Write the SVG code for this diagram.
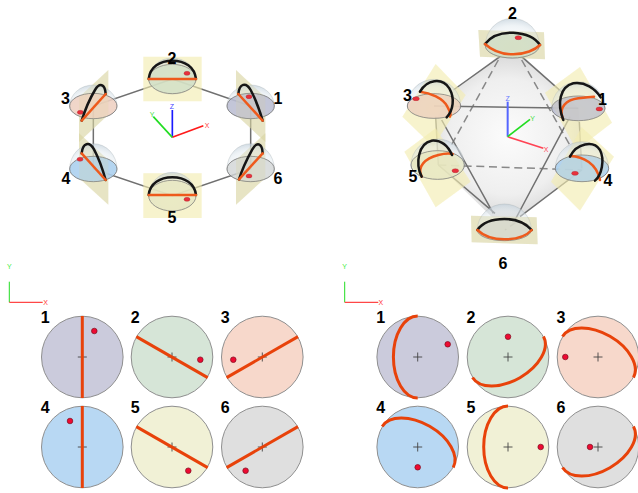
<svg xmlns="http://www.w3.org/2000/svg" width="638" height="493" viewBox="0 0 638 493" font-family="'Liberation Sans',Arial,sans-serif">
<style>
.lbl{font-family:'Liberation Sans',Arial,sans-serif;font-weight:700;font-size:16px;fill:#000;text-anchor:middle}
.ax{font-family:'Liberation Sans',Arial,sans-serif;font-size:7px;text-anchor:middle}
.plane{fill:#f9f2b0;fill-opacity:.55;stroke:none}
.plane2{fill:#d6d29c;fill-opacity:.55;stroke:none}
.over{fill:#e2ddb0;fill-opacity:.18;stroke:none}
.dome{fill:url(#domeG);stroke:#9aa3a8;stroke-width:1.5;stroke-opacity:.6}
.base{stroke:#777;stroke-width:2.500}
.blk{fill:none;stroke:#161616;stroke-width:7.500;stroke-linecap:round}
.or3{fill:none;stroke:#ee5a1c;stroke-width:7.500;stroke-linecap:round}
.dot3{fill:#e8303c;stroke:#a02028;stroke-width:1}
.edge{fill:none;stroke:#707070;stroke-width:4.500}
.dash{fill:none;stroke:#888;stroke-width:4.500;stroke-dasharray:24 14}
.disc{stroke:#8f8f8f;stroke-width:1}
.gc{fill:none;stroke:#e8420a;stroke-width:3}
.dot{fill:#ee0a32;stroke:#7a1020;stroke-width:.7}
.plus{fill:none;stroke:#444;stroke-width:.9}
.c1{fill:#cbcbdc}.c2{fill:#d6e5d7}.c3{fill:#f7d8cb}.c4{fill:#b8d8f3}.c5{fill:#f1f1d6}.c6{fill:#dfdfdf}
.b1{fill:#b6b9cf;fill-opacity:.8}.b2{fill:#c8dcc8;fill-opacity:.72}.b3{fill:#efcdbd;fill-opacity:.8}.b4{fill:#a6cdee;fill-opacity:.82}.b5{fill:#e6e8c0;fill-opacity:.72}.b6{fill:#cfd2d2;fill-opacity:.7}
</style>
<defs>
<radialGradient id="domeG" cx=".5" cy=".75" r=".8"><stop offset="0" stop-color="#ffffff" stop-opacity=".15"/><stop offset=".7" stop-color="#dfe8ee" stop-opacity=".5"/><stop offset="1" stop-color="#b9c8d4" stop-opacity=".8"/></radialGradient>
<radialGradient id="hullG" gradientUnits="userSpaceOnUse" cx="413" cy="410" r="290"><stop offset="0" stop-color="#fbfbfb"/><stop offset=".6" stop-color="#ececec"/><stop offset="1" stop-color="#c4c4c4"/></radialGradient>
<path id="plus" d="M-4.500 0H4.500M0-4.500V4.500" class="plus"/>
</defs>

<g id="connectors-left" transform="translate(40 30) scale(.33333)">
<path class="edge" d="M397 147L632 228V417L397 497L160 417V228Z"/>
</g>
<g id="axes-left" transform="translate(40 30) scale(.33333)">
<path d="M397 322V240" stroke="#1a1aff" stroke-width="5" fill="none"/>
<path d="M397 322L490 287" stroke="#ff1a1a" stroke-width="5" fill="none"/>
<path d="M397 322L340 260" stroke="#22dd22" stroke-width="5" fill="none"/>
</g>
<text class="ax" x="172" y="109" fill="#4444ff">Z</text>
<text class="ax" x="207" y="127.500" fill="#ff4444">X</text>
<text class="ax" x="152" y="117" fill="#44dd44">Y</text>

<g id="tl1"><g transform="translate(40 30) scale(.33333)">
<path class="plane2" d="M588 120L676 202V336L588 254Z"/>
<path class="dome" d="M561 228A71 63 0 0 1 703 228A71 38 0 0 1 561 228Z"/>
<ellipse class="base b1" cx="632" cy="228" rx="71" ry="38"/>
<path class="over" d="M588 120L676 202V336L588 254Z"/>
<ellipse class="dot3" cx="627" cy="200" rx="9" ry="6"/>
<path class="blk" d="M595 192C598 160 618 155 632 180C648 210 660 245 668 272"/>
<path class="or3" d="M595 192L668 272"/></g>
<text class="lbl" x="278" y="104">1</text></g>

<g id="tl2"><g transform="translate(40 30) scale(.33333)">
<path class="plane" d="M310 80H485V214H310Z"/>
<path class="dome" d="M326 147A71 63 0 0 1 468 147A71 45 0 0 1 326 147Z"/>
<ellipse class="base b2" cx="397" cy="147" rx="71" ry="44"/>
<path class="over" d="M310 80H485V214H310Z"/>
<ellipse class="dot3" cx="441" cy="130" rx="9" ry="6"/>
<path class="blk" d="M326 147C330 110 360 92 397 92C434 92 464 110 468 147"/>
<path class="or3" d="M326 147H468"/></g>
<text class="lbl" x="172" y="64">2</text></g>

<g id="tl3"><g transform="translate(40 30) scale(.33333)">
<path class="plane2" d="M205 120L117 202V336L205 254Z"/>
<path class="dome" d="M89 228A71 63 0 0 1 231 228A71 38 0 0 1 89 228Z"/>
<ellipse class="base b3" cx="160" cy="228" rx="71" ry="38"/>
<path class="over" d="M205 120L117 202V336L205 254Z"/>
<ellipse class="dot3" cx="121" cy="247" rx="9" ry="6"/>
<path class="blk" d="M125 272C135 240 150 205 165 180C178 158 195 160 197 192"/>
<path class="or3" d="M125 272L197 192"/></g>
<text class="lbl" x="65.500" y="104">3</text></g>

<g id="tl4"><g transform="translate(40 30) scale(.33333)">
<path class="plane2" d="M117 310L205 390V524L117 444Z"/>
<path class="dome" d="M89 417A71 76 0 0 1 231 417A71 38 0 0 1 89 417Z"/>
<ellipse class="base b4" cx="160" cy="417" rx="71" ry="38"/>
<path class="over" d="M117 310L205 390V524L117 444Z"/>
<ellipse class="dot3" cx="120" cy="388" rx="9" ry="6"/>
<path class="blk" d="M125 370C128 338 148 333 162 358C178 388 190 425 197 450"/>
<path class="or3" d="M125 370L197 450"/></g>
<text class="lbl" x="66" y="184">4</text></g>

<g id="tl5"><g transform="translate(40 30) scale(.33333)">
<path class="plane" d="M310 430H485V564H310Z"/>
<path class="dome" d="M326 497A71 70 0 0 1 468 497A71 45 0 0 1 326 497Z"/>
<ellipse class="base b5" cx="397" cy="497" rx="71" ry="46"/>
<path class="over" d="M310 430H485V564H310Z"/>
<ellipse class="dot3" cx="441" cy="508" rx="9" ry="6"/>
<path class="blk" d="M326 495C330 460 360 442 397 442C434 442 464 460 468 495"/>
<path class="or3" d="M326 495H468"/></g>
<text class="lbl" x="172" y="223">5</text></g>

<g id="tl6"><g transform="translate(40 30) scale(.33333)">
<path class="plane2" d="M588 390L676 310V444L588 524Z"/>
<path class="dome" d="M561 417A71 76 0 0 1 703 417A71 38 0 0 1 561 417Z"/>
<ellipse class="base b6" cx="632" cy="417" rx="71" ry="38"/>
<path class="over" d="M588 390L676 310V444L588 524Z"/>
<ellipse class="dot3" cx="627" cy="438" rx="9" ry="6"/>
<path class="blk" d="M597 448C607 416 622 385 637 358C650 335 667 338 668 370"/>
<path class="or3" d="M597 448L668 370"/></g>
<text class="lbl" x="278" y="184">6</text></g>

<g id="connectors-right" transform="translate(370 0) scale(.33333)">
<path d="M390 165L250 270L200 355L205 495L365 650L440 655L640 510L625 325L575 275L455 165Z" fill="url(#hullG)" fill-opacity=".85"/>
<path class="dash" d="M385 180L225 470M455 180L605 445M205 495L635 510M440 665L405 690"/>
<path class="edge" d="M390 170L250 270M455 170L580 280M192 318L625 325M197 350L205 495M628 365L635 505M205 495L375 640M215 360L370 640M600 350L435 660M635 510L450 650"/>
</g>
<g id="axes-right" transform="translate(370 0) scale(.33333)">
<path d="M413 410V305" stroke="#5566ff" stroke-width="6" fill="none"/>
<path d="M413 410L520 445" stroke="#ff4455" stroke-width="5" fill="none"/>
<path d="M413 410L480 358" stroke="#22dd22" stroke-width="5" fill="none"/>
</g>
<text class="ax" x="507.700" y="101" fill="#6677ff">Z</text>
<text class="ax" x="546" y="152" fill="#ff4455">X</text>
<text class="ax" x="532.500" y="121" fill="#44dd44">Y</text>

<g id="tr1"><g transform="translate(370 0) scale(.33333)">
<path class="plane" d="M630 201L726 368L620 450L525 278Z"/>
<path class="dome" d="M545 325A80 80 0 0 1 705 325A80 37 0 0 1 545 325Z"/>
<ellipse class="base b1" cx="625" cy="325" rx="80" ry="37"/>
<path class="over" d="M630 201L726 368L620 450L525 278Z"/>
<ellipse class="dot3" cx="688" cy="327" rx="10" ry="6"/>
<path class="or3" d="M578 355C565 320 590 300 625 295C645 292 660 290 672 290"/>
<path class="blk" d="M580 360C560 310 570 260 610 250C645 245 675 265 692 292"/></g>
<text class="lbl" x="602.500" y="105">1</text></g>

<g id="tr2"><g transform="translate(370 0) scale(.33333)">
<path class="plane2" d="M325 90L522 97L525 178L330 170Z"/>
<path class="dome" d="M346 137A81 82 0 0 1 508 137A81 37 0 0 1 346 137Z"/>
<ellipse class="base b2" cx="427" cy="137" rx="81" ry="37"/>
<path class="over" d="M325 90L522 97L525 178L330 170Z"/>
<ellipse class="dot3" cx="445" cy="113" rx="10" ry="6"/>
<path class="blk" d="M345 132C365 105 400 97 430 98C465 100 495 112 510 135"/>
<path class="or3" d="M345 132C370 155 400 163 430 163C465 163 495 150 510 135"/></g>
<text class="lbl" x="512.500" y="18.500">2</text></g>

<g id="tr3"><g transform="translate(370 0) scale(.33333)">
<path class="plane" d="M197 192L287 285L190 440L97 350Z"/>
<path class="dome" d="M112 318A80 80 0 0 1 272 318A80 37 0 0 1 112 318Z"/>
<ellipse class="base b3" cx="192" cy="318" rx="80" ry="37"/>
<path class="over" d="M197 192L287 285L190 440L97 350Z"/>
<ellipse class="dot3" cx="138" cy="296" rx="10" ry="6"/>
<path class="or3" d="M150 275C180 278 220 295 232 320C240 335 245 345 240 350"/>
<path class="blk" d="M150 275C170 240 215 230 238 265C255 295 250 330 230 352"/></g>
<text class="lbl" x="407.500" y="101">3</text></g>

<g id="tr4"><g transform="translate(370 0) scale(.33333)">
<path class="plane" d="M635 382L732 470L630 632L543 545Z"/>
<path class="dome" d="M556 505A80 80 0 0 1 716 505A80 40 0 0 1 556 505Z"/>
<ellipse class="base b4" cx="636" cy="505" rx="80" ry="40"/>
<path class="over" d="M635 382L732 470L630 632L543 545Z"/>
<ellipse class="dot3" cx="615" cy="520" rx="10" ry="6"/>
<path class="or3" d="M600 468C640 470 680 490 690 540"/>
<path class="blk" d="M600 470C620 430 670 420 690 450C705 480 695 525 675 542"/></g>
<text class="lbl" x="608" y="186">4</text></g>

<g id="tr5"><g transform="translate(370 0) scale(.33333)">
<path class="plane" d="M197 385L302 545L197 622L103 455Z"/>
<path class="dome" d="M123 495A80 78 0 0 1 283 495A80 43 0 0 1 123 495Z"/>
<ellipse class="base b5" cx="203" cy="495" rx="80" ry="43"/>
<path class="over" d="M197 385L302 545L197 622L103 455Z"/>
<ellipse class="dot3" cx="256" cy="512" rx="10" ry="6"/>
<path class="or3" d="M155 530C140 500 165 475 205 465C225 460 240 460 248 462"/>
<path class="blk" d="M155 530C135 490 145 430 185 422C215 420 235 440 246 465"/></g>
<text class="lbl" x="413" y="182">5</text></g>

<g id="tr6"><g transform="translate(370 0) scale(.33333)">
<path class="plane2" d="M303 647L500 652L503 733L305 727Z"/>
<path class="dome" d="M322 690A81 78 0 0 1 484 690A81 32 0 0 1 322 690Z"/>
<ellipse class="base b6" cx="403" cy="690" rx="81" ry="32"/>
<path class="over" d="M303 647L500 652L503 733L305 727Z"/>
<path class="blk" d="M322 690C340 665 375 657 403 657C435 657 465 668 485 690"/>
<path class="or3" d="M322 690C345 712 375 718 403 718C435 718 465 712 485 690"/></g>
<text class="lbl" x="503" y="269">6</text></g>

<g id="axes2d-left" fill="none">
<path d="M9.300 302.300V281.700" stroke="#22dd22" stroke-width="1"/>
<path d="M9.300 302.300H42.700" stroke="#ff1a1a" stroke-width="1"/>
<text class="ax" x="9.300" y="269" fill="#44ee44" stroke="none">Y</text>
<text class="ax" x="45.500" y="304.800" fill="#ff3333" stroke="none">X</text>
</g>
<g id="axes2d-right" fill="none">
<path d="M344.700 302.300V281.700" stroke="#22dd22" stroke-width="1"/>
<path d="M344.700 302.300H378.300" stroke="#ff1a1a" stroke-width="1"/>
<text class="ax" x="344.700" y="269" fill="#44ee44" stroke="none">Y</text>
<text class="ax" x="380.800" y="304.800" fill="#ff3333" stroke="none">X</text>
</g>

<g id="l1" transform="translate(82.300 357)"><circle r="40.800" class="disc c1"/><use href="#plus"/><path class="gc" d="M0-41V41"/><circle cx="12" cy="-26" r="2.800" class="dot"/><text class="lbl" x="-37" y="-34">1</text></g>
<g id="l2" transform="translate(172 357)"><circle r="40.800" class="disc c2"/><use href="#plus"/><path class="gc" d="M-35.700-20.400L35.700 20.600"/><circle cx="28.300" cy="2.700" r="2.800" class="dot"/><text class="lbl" x="-36.700" y="-34">2</text></g>
<g id="l3" transform="translate(262.300 357)"><circle r="40.800" class="disc c3"/><use href="#plus"/><path class="gc" d="M-35.700 20.600L35.700-20.400"/><circle cx="-29" cy="2.700" r="2.800" class="dot"/><text class="lbl" x="-37" y="-34">3</text></g>
<g id="l4" transform="translate(82.300 447)"><circle r="40.800" class="disc c4"/><use href="#plus"/><path class="gc" d="M0-41V41"/><circle cx="-12.300" cy="-26" r="2.800" class="dot"/><text class="lbl" x="-37" y="-34">4</text></g>
<g id="l5" transform="translate(172 447)"><circle r="40.800" class="disc c5"/><use href="#plus"/><path class="gc" d="M-35.700-20.400L35.700 20.600"/><circle cx="16.300" cy="23.700" r="2.800" class="dot"/><text class="lbl" x="-36.700" y="-34">5</text></g>
<g id="l6" transform="translate(262.300 447)"><circle r="40.800" class="disc c6"/><use href="#plus"/><path class="gc" d="M-35.700 20.600L35.700-20.400"/><circle cx="-16.700" cy="23.700" r="2.800" class="dot"/><text class="lbl" x="-37" y="-34">6</text></g>

<g id="r1" transform="translate(417.700 357)"><circle r="40.800" class="disc c1"/><use href="#plus"/><path class="gc" d="M0-41A24.300 41 0 0 0 0 41"/><circle cx="30" cy="-12.700" r="2.800" class="dot"/><text class="lbl" x="-37" y="-34">1</text></g>
<g id="r2" transform="translate(508 357)"><circle r="40.800" class="disc c2"/><use href="#plus"/><path class="gc" d="M-35.500 20.500A41 24.300 -30 0 0 35.500-20.500"/><circle cx="0" cy="-20.300" r="2.800" class="dot"/><text class="lbl" x="-37" y="-34">2</text></g>
<g id="r3" transform="translate(598 357)"><circle r="40.800" class="disc c3"/><use href="#plus"/><path class="gc" d="M-35.500-20.500A41 24.300 30 0 1 35.500 20.500"/><circle cx="-32.700" cy="0" r="2.800" class="dot"/><text class="lbl" x="-37" y="-34">3</text></g>
<g id="r4" transform="translate(417.700 447)"><circle r="40.800" class="disc c4"/><use href="#plus"/><path class="gc" d="M-35.500-20.500A41 24.300 30 0 1 35.500 20.500"/><circle cx="0" cy="20.300" r="2.800" class="dot"/><text class="lbl" x="-37" y="-34">4</text></g>
<g id="r5" transform="translate(508 447)"><circle r="40.800" class="disc c5"/><use href="#plus"/><path class="gc" d="M0-41A24.300 41 0 0 0 0 41"/><circle cx="32.700" cy="0" r="2.800" class="dot"/><text class="lbl" x="-37" y="-34">5</text></g>
<g id="r6" transform="translate(598 447)"><circle r="40.800" class="disc c6"/><use href="#plus"/><path class="gc" d="M-35.500 20.500A41 24.300 -30 0 0 35.500-20.500"/><circle cx="-8" cy="0" r="2.800" class="dot"/><text class="lbl" x="-37" y="-34">6</text></g>
</svg>
